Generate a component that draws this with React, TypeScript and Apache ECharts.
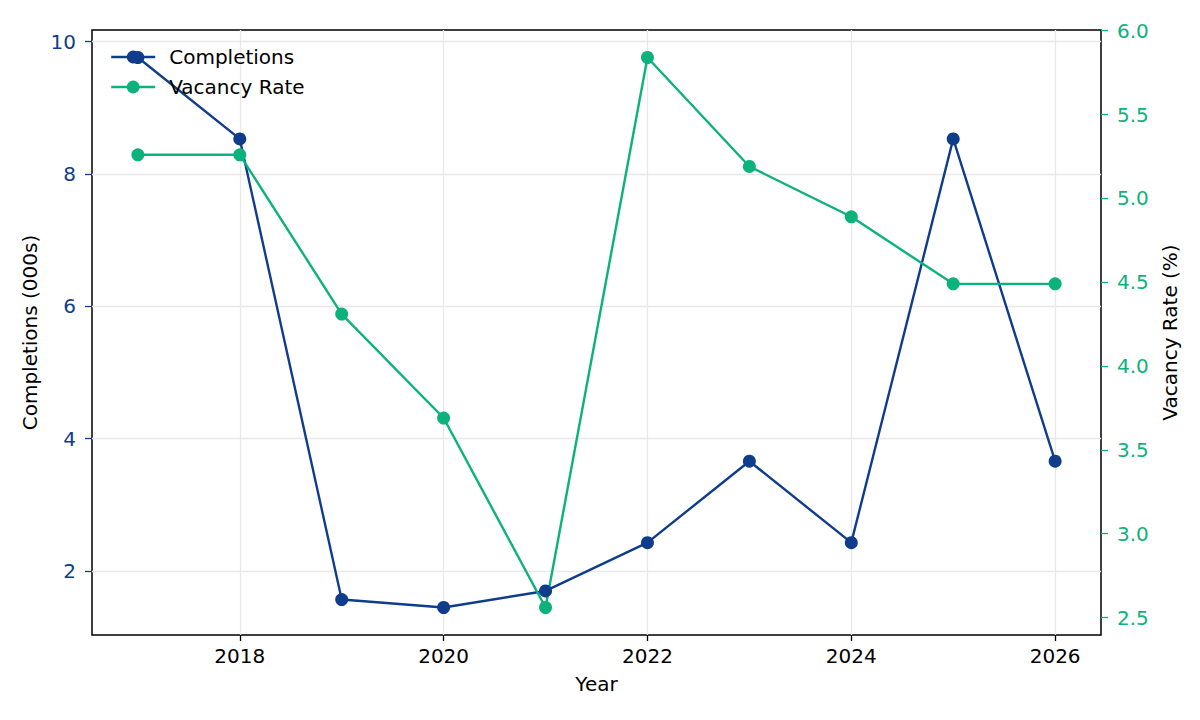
import React, { useEffect, useRef } from "react";
import * as echarts from "echarts";

// values
const years = [2017, 2018, 2019, 2020, 2021, 2022, 2023, 2024, 2025, 2026];
const completions = [9.76, 8.53, 1.57, 1.45, 1.7, 2.43, 3.66, 2.43, 8.53, 3.66];
const vacancyRate = [5.26, 5.26, 4.31, 3.69, 2.56, 5.84, 5.19, 4.89, 4.49, 4.49];

const yearTicks = [2018, 2020, 2022, 2024, 2026];
const completionTicks = [2, 4, 6, 8, 10];
const vacancyTicks = [2.5, 3.0, 3.5, 4.0, 4.5, 5.0, 5.5, 6.0];

const BLUE = "#0f3d8c";
const GREEN = "#0cb27b";
const FONT = "DejaVu Sans";

// matplotlib-style 5% padding around the data
const padded = (vals: number[]) => {
  const lo = Math.min(...vals);
  const hi = Math.max(...vals);
  const m = (hi - lo) * 0.05;
  return [lo - m, hi + m];
};

const App: React.FC = () => {
  const chartRef = useRef<HTMLDivElement>(null);

  useEffect(() => {
    if (!chartRef.current) return;
    const chart = echarts.init(chartRef.current, undefined, { renderer: "svg" });

    const [xMin, xMax] = padded(years);
    const [cMin, cMax] = padded(completions);
    const [vMin, vMax] = padded(vacancyRate);

    const option: echarts.EChartsOption = {
      animation: false,
      backgroundColor: "#ffffff",
      textStyle: { fontFamily: FONT },
      grid: {
        left: 92,
        right: 99,
        top: 30,
        bottom: 85,
        containLabel: false,
        outerBoundsMode: "none",
        show: true,
        borderColor: "#000000",
        borderWidth: 1.5,
        backgroundColor: "transparent",
      } as any,
      legend: {
        left: 110,
        top: 47,
        padding: 0,
        orient: "vertical",
        itemWidth: 44,
        itemHeight: 16,
        itemGap: 10,
        lineStyle: { width: 2.4 },
        textStyle: { fontSize: 20, color: "#000000", fontFamily: FONT, padding: [0, 0, 0, 9] },
        data: ["Completions", "Vacancy Rate"],
      },
      xAxis: {
        type: "value",
        min: xMin,
        max: xMax,
        name: "Year",
        nameLocation: "middle",
        nameGap: 39,
        nameTextStyle: { fontSize: 20, color: "#000000", fontFamily: FONT },
        axisLine: { show: false },
        axisTick: {
          show: true,
          length: 6,
          lineStyle: { color: "#000000", width: 1.3 },
          customValues: yearTicks,
        } as any,
        axisLabel: {
          fontSize: 20,
          color: "#000000",
          margin: 11,
          customValues: yearTicks,
          formatter: (v: number) => String(v),
        } as any,
        splitLine: { show: true, lineStyle: { color: "#e8e8e8", width: 1.3 } },
      },
      yAxis: [
        {
          type: "value",
          position: "left",
          min: cMin,
          max: cMax,
          name: "Completions (000s)",
          nameLocation: "middle",
          nameGap: 50,
          nameTextStyle: { fontSize: 20, color: "#000000", fontFamily: FONT },
          axisLine: { show: false },
          axisTick: {
            show: true,
            length: 7,
            lineStyle: { color: BLUE, width: 1.3 },
            customValues: completionTicks,
          } as any,
          axisLabel: {
            fontSize: 20,
            color: BLUE,
            margin: 16,
            customValues: completionTicks,
            formatter: (v: number) => String(v),
          } as any,
          splitLine: { show: true, lineStyle: { color: "#e8e8e8", width: 1.3 } },
        },
        {
          type: "value",
          position: "right",
          min: vMin,
          max: vMax,
          name: "Vacancy Rate (%)",
          nameLocation: "middle",
          nameGap: 51,
          nameTextStyle: { fontSize: 20, color: "#000000", fontFamily: FONT },
          axisLine: { show: false },
          axisTick: {
            show: true,
            length: 7,
            lineStyle: { color: GREEN, width: 1.3 },
            customValues: vacancyTicks,
          } as any,
          axisLabel: {
            fontSize: 20,
            color: GREEN,
            margin: 16,
            customValues: vacancyTicks,
            formatter: (v: number) => v.toFixed(1),
          } as any,
          splitLine: { show: false },
        },
      ],
      series: [
        {
          name: "Completions",
          type: "line",
          yAxisIndex: 0,
          data: years.map((y, i) => [y, completions[i]]),
          symbol: "circle",
          symbolSize: 13,
          itemStyle: { color: BLUE },
          lineStyle: { color: BLUE, width: 2.4 },
        },
        {
          name: "Vacancy Rate",
          type: "line",
          yAxisIndex: 1,
          data: years.map((y, i) => [y, vacancyRate[i]]),
          symbol: "circle",
          symbolSize: 13,
          itemStyle: { color: GREEN },
          lineStyle: { color: GREEN, width: 2.4 },
        },
      ],
    };

    chart.setOption(option);
    return () => chart.dispose();
  }, []);

  return (
    <div
      ref={chartRef}
      style={{ position: "absolute", left: 0, top: 0, width: "1200px", height: "720px", background: "#fff" }}
    />
  );
};

export default App;
